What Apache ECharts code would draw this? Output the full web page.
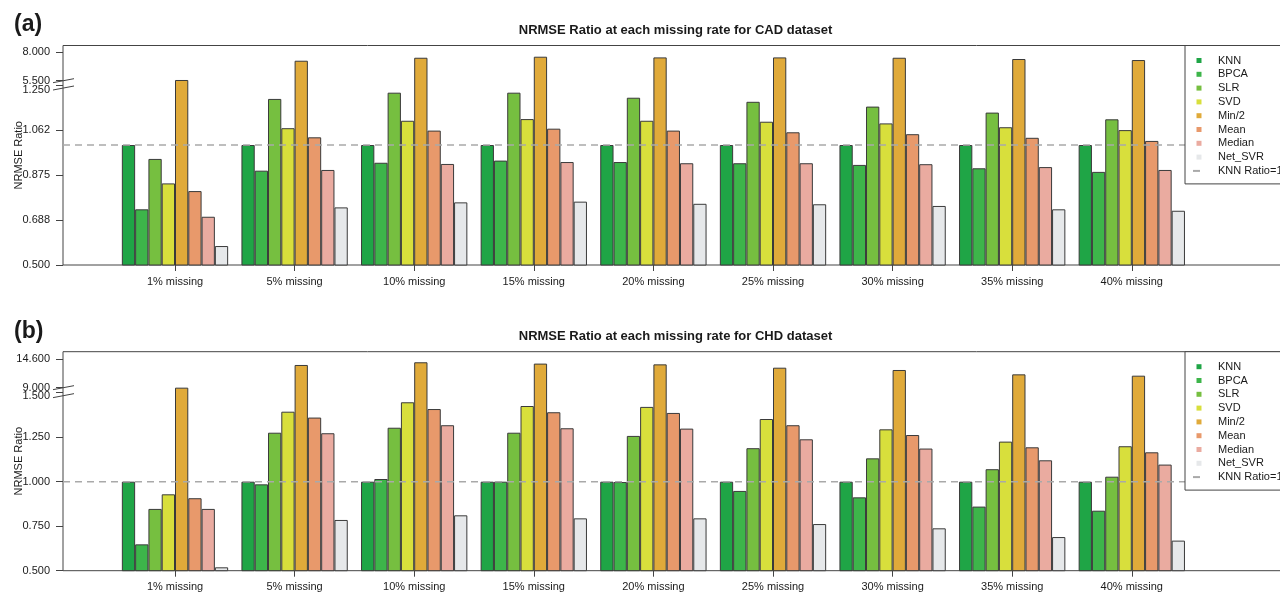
<!DOCTYPE html>
<html>
<head>
<meta charset="utf-8">
<title>NRMSE Ratio</title>
<script src="https://cdn.jsdelivr.net/npm/echarts@6.0.0/dist/echarts.min.js"></script>
<style>
  html, body { margin: 0; padding: 0; background: #fff; }
  #chart { width: 1280px; height: 596px; }
</style>
</head>
<body>
<div id="chart"></div>
<script>
// =====================================================================================================================
// DONNEES

var categories = ['1% missing', '5% missing', '10% missing', '15% missing', '20% missing',
                  '25% missing', '30% missing', '35% missing', '40% missing'];
var methods = ['KNN', 'BPCA', 'SLR', 'SVD', 'Min/2', 'Mean', 'Median', 'Net_SVR'];
var methodColors = ['#1fa546', '#3db54a', '#76bf40', '#d8df3c', '#e0aa3a', '#e8996b', '#eaaba0', '#e6e8ea'];
var ratioLineName = 'KNN Ratio=1';

// CAD dataset
var cadKnn    = [1.0, 1.0, 1.0, 1.0, 1.0, 1.0, 1.0, 1.0, 1.0];
var cadBpca   = [0.732, 0.893, 0.926, 0.935, 0.929, 0.924, 0.917, 0.903, 0.888];
var cadSlr    = [0.942, 1.192, 1.218, 1.218, 1.197, 1.180, 1.160, 1.135, 1.107];
var cadSvd    = [0.840, 1.070, 1.101, 1.108, 1.101, 1.097, 1.090, 1.074, 1.062];
var cadMin2   = [5.56, 7.24, 7.50, 7.59, 7.53, 7.53, 7.50, 7.39, 7.30];
var cadMean   = [0.808, 1.032, 1.060, 1.068, 1.060, 1.053, 1.045, 1.030, 1.017];
var cadMedian = [0.701, 0.896, 0.921, 0.929, 0.924, 0.924, 0.920, 0.908, 0.896];
var cadNetSvr = [0.579, 0.740, 0.761, 0.764, 0.755, 0.753, 0.746, 0.732, 0.726];

// CHD dataset
var chdKnn    = [1.0, 1.0, 1.0, 1.0, 1.0, 1.0, 1.0, 1.0, 1.0];
var chdBpca   = [0.648, 0.985, 1.015, 1.000, 0.998, 0.948, 0.912, 0.860, 0.837];
var chdSlr    = [0.847, 1.275, 1.303, 1.275, 1.257, 1.188, 1.131, 1.070, 1.028];
var chdSvd    = [0.929, 1.393, 1.446, 1.425, 1.420, 1.352, 1.294, 1.225, 1.199];
var chdMin2   = [9.0, 13.43, 13.96, 13.70, 13.55, 12.90, 12.45, 11.60, 11.34];
var chdMean   = [0.907, 1.360, 1.408, 1.390, 1.386, 1.317, 1.262, 1.193, 1.165];
var chdMedian = [0.847, 1.272, 1.317, 1.300, 1.298, 1.238, 1.186, 1.120, 1.096];
var chdNetSvr = [0.519, 0.785, 0.811, 0.794, 0.794, 0.762, 0.738, 0.689, 0.669];

// graduations de l'axe Y (axe coupé)
var cadTicks = [0.5, 0.6875, 0.875, 1.0625, 1.25, 5.5, 8.0];
var cadTickLabels = ['0.500', '0.688', '0.875', '1.062', '1.250', '5.500', '8.000'];
var chdTicks = [0.5, 0.75, 1.0, 1.25, 1.5, 9.0, 14.6];
var chdTickLabels = ['0.500', '0.750', '1.000', '1.250', '1.500', '9.000', '14.600'];

// =====================================================================================================================
// MISE EN PAGE

var fontFamily = '"Liberation Sans", Arial, Helvetica, sans-serif';
var textColor = '#1a1a1a';
var frameColor = '#444';

var panels = [
  {
    tag: '(a)', title: 'NRMSE Ratio at each missing rate for CAD dataset',
    top: 45.5, height: 219.5,
    data: [cadKnn, cadBpca, cadSlr, cadSvd, cadMin2, cadMean, cadMedian, cadNetSvr],
    ticks: cadTicks, tickLabels: cadTickLabels,
    // coupure : partie basse jusqu'a lowTop, partie haute compressee a partir de upBottom
    lowTop: 1.25, upBottom: 5.5, gap: 0.018, squeeze: 0.0478, yMax: 1.4146, labelShift: 9
  },
  {
    tag: '(b)', title: 'NRMSE Ratio at each missing rate for CHD dataset',
    top: 351.7, height: 219,
    data: [chdKnn, chdBpca, chdSlr, chdSvd, chdMin2, chdMean, chdMedian, chdNetSvr],
    ticks: chdTicks, tickLabels: chdTickLabels,
    lowTop: 1.5, upBottom: 9.0, gap: 0.028, squeeze: 0.02876, yMax: 1.730, labelShift: 6
  }
];

function toAxis(p, v) {
  return v <= p.lowTop ? v : p.lowTop + p.gap + (v - p.upBottom) * p.squeeze;
}

var frameLeft = 63;
var frameWidth = 1225;
var barsLeft = 115.2;
var barsWidth = 1076.4;

var grids = [], xAxes = [], yAxes = [], series = [], legends = [], titles = [];

panels.forEach(function (p, k) {
  'use strict';
  var fi = 2 * k, bi = 2 * k + 1;
  var tickPos = p.ticks.map(function (t) { return toAxis(p, t); });

  titles.push({
    text: p.tag, left: 14, top: p.top - 32, padding: 0,
    textStyle: {fontFamily: fontFamily, fontSize: 23, fontWeight: 'bold', color: textColor}
  });
  titles.push({
    text: p.title, left: 675.5, top: p.top - 22, padding: 0, textAlign: 'center',
    textStyle: {fontFamily: fontFamily, fontSize: 13, fontWeight: 'bold', color: textColor}
  });

  // cadre du graphique
  grids.push({
    left: frameLeft, top: p.top, width: frameWidth, height: p.height,
    show: true, borderColor: frameColor, borderWidth: 1, backgroundColor: 'transparent',
    outerBoundsMode: 'none', containLabel: false
  });
  // zone des barres
  grids.push({
    left: barsLeft, top: p.top, width: barsWidth, height: p.height,
    outerBoundsMode: 'none', containLabel: false
  });

  xAxes.push({gridIndex: fi, type: 'value', min: 0, max: 1, show: false});
  xAxes.push({
    gridIndex: bi, type: 'category', data: categories, boundaryGap: true,
    axisLine: {show: false},
    axisTick: {show: true, alignWithLabel: true, length: 6, lineStyle: {color: frameColor, width: 1}},
    axisLabel: {show: true, interval: 0, margin: 11, fontSize: 11, color: textColor, fontFamily: fontFamily},
    splitLine: {show: false}
  });

  yAxes.push({
    gridIndex: fi, type: 'value', min: 0.5, max: p.yMax,
    name: 'NRMSE Ratio', nameLocation: 'middle', nameGap: 39, nameMoveOverlap: false,
    nameTextStyle: {fontSize: 11, color: textColor, fontFamily: fontFamily},
    axisLine: {show: false},
    axisTick: {show: true, length: 7, customValues: tickPos, lineStyle: {color: frameColor, width: 1}},
    axisLabel: {
      show: true, margin: 13, fontSize: 11, color: textColor, fontFamily: fontFamily,
      customValues: tickPos,
      formatter: function (value) {
        for (var i = 0; i < tickPos.length; i++) {
          if (Math.abs(tickPos[i] - value) < 1e-6) {
            if (p.ticks[i] === p.lowTop) { return '{lo|' + p.tickLabels[i] + '}'; }
            return p.tickLabels[i];
          }
        }
        return '';
      },
      rich: {lo: {fontSize: 11, color: textColor, fontFamily: fontFamily, padding: [p.labelShift, 0, 0, 0]}}
    },
    splitLine: {show: false}
  });
  yAxes.push({gridIndex: bi, type: 'value', min: 0.5, max: p.yMax, show: false, splitLine: {show: false}});

  methods.forEach(function (m, j) {
    series.push({
      name: m, type: 'bar', xAxisIndex: bi, yAxisIndex: bi,
      data: p.data[j].map(function (v) { return toAxis(p, v); }),
      barGap: '0%', barCategoryGap: '11.11%',
      itemStyle: {color: methodColors[j], borderColor: '#3a3a3a', borderWidth: 1},
      emphasis: {disabled: true},
      z: 2
    });
  });

  series.push({
    name: ratioLineName, type: 'line', xAxisIndex: fi, yAxisIndex: fi,
    data: [[0, 1], [1, 1]], symbol: 'none', silent: true,
    itemStyle: {color: '#a9a9a9'},
    lineStyle: {color: '#a9a9a9', width: 1.6, type: [7, 5]},
    z: 3
  });

  legends.push({
    orient: 'vertical', left: 1185, top: p.top,
    padding: [9, 30, 7, 7], itemGap: 1.8, itemWidth: 12, itemHeight: 5,
    backgroundColor: '#fff', borderColor: frameColor, borderWidth: 1, borderRadius: 0,
    selectedMode: false, symbolKeepAspect: true,
    itemStyle: {borderWidth: 0},
    textStyle: {fontSize: 11, color: textColor, fontFamily: fontFamily, lineHeight: 12, padding: [0, 0, 0, 8]},
    data: methods.map(function (m) {
      return {name: m, icon: 'path://M0,0L10,0L10,10L0,10Z'};
    }).concat([{name: ratioLineName, itemStyle: {opacity: 0}}]),
    z: 4
  });
});

// =====================================================================================================================
// GRAPHIQUE

var chart = echarts.init(document.getElementById('chart'), null, {renderer: 'canvas'});
chart.setOption({
  animation: false,
  backgroundColor: '#fff',
  textStyle: {fontFamily: fontFamily},
  title: titles,
  legend: legends,
  tooltip: {show: false},
  grid: grids,
  xAxis: xAxes,
  yAxis: yAxes,
  series: series
});

// marques de coupure "//" sur l'axe Y
var breakMarks = [];
panels.forEach(function (p, k) {
  'use strict';
  [p.upBottom, p.lowTop].forEach(function (v, j) {
    var y = chart.convertToPixel({yAxisIndex: 2 * k}, toAxis(p, v)) + (j ? 3 : 0);
    breakMarks.push({
      type: 'line', silent: true, z: 10,
      shape: {x1: frameLeft - 10, y1: y + 2, x2: frameLeft + 11, y2: y - 2},
      style: {stroke: frameColor, lineWidth: 1}
    });
  });
});
chart.setOption({graphic: breakMarks});
</script>
</body>
</html>
